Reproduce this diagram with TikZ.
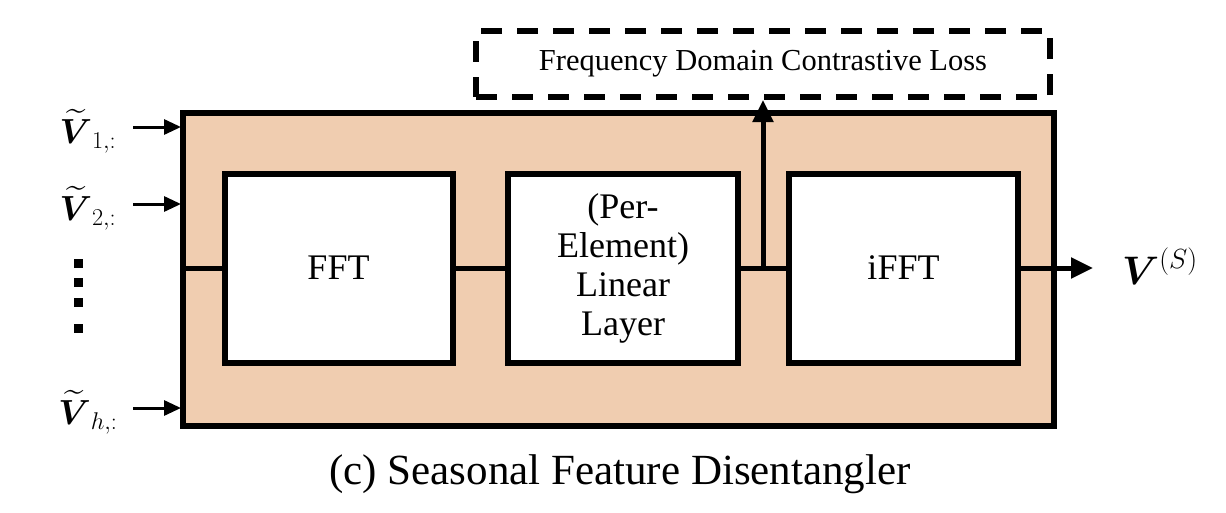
\documentclass[tikz,border=0pt]{standalone}
\usepackage{amsmath}
\usepackage{graphicx}
\usepackage{fontspec}
\setmainfont{Liberation Serif}
\usetikzlibrary{arrows.meta}
\definecolor{peach}{RGB}{240,205,176}
\newcommand{\bigmath}[2]{\scalebox{#1}{\fontsize{24}{28}\selectfont$#2$}}
\begin{document}
\begin{tikzpicture}[x=1pt,y=-1pt,
  blk/.style={draw=black,line width=6pt,fill=white,inner sep=0pt,align=center,font=\fontsize{36}{39}\selectfont},
  conn/.style={line width=5pt},
  inarrow/.style={line width=3pt,-{Triangle[length=17pt,width=15pt]}},
  bigarrow/.style={line width=5pt,-{Triangle[length=22pt,width=20pt]}},
  lbl/.style={inner sep=0pt}]
\useasboundingbox (0,0) rectangle (1226,512);
% outer box
\node[draw=black,line width=6pt,fill=peach,minimum width=871pt,minimum height=313pt,inner sep=0pt] (outer) at (618.5,269.5) {};
% dashed loss box
\node[draw=black,line width=6pt,dash pattern=on 21pt off 15pt,minimum width=574pt,minimum height=66pt,inner sep=0pt,font=\fontsize{30.5}{34}\selectfont] (loss) at (763,64) {Frequency Domain Contrastive Loss};
% inner blocks
\node[blk,minimum width=228pt,minimum height=189pt] (fft) at (338.5,268) {FFT};
\node[blk,minimum width=230pt,minimum height=189pt] (lin) at (623,268) {(Per-\\Element)\\Linear\\Layer};
\node[blk,minimum width=229pt,minimum height=189pt] (ifft) at (903.5,268) {iFFT};
% connectors
\coordinate (inl) at (outer.west |- fft.west);
\coordinate (junc) at (763,268);
\coordinate (outend) at (1093,268);
\draw[conn] (inl) -- (fft.west);
\draw[conn] (fft.east) -- (lin.west);
\draw[conn] (lin.east) -- (ifft.west);
\draw[bigarrow] (ifft.east) -- (outend);
\draw[bigarrow] (junc) -- (junc |- loss.south);
% inputs
\coordinate (a1) at (181,127);
\coordinate (a2) at (181,204);
\coordinate (a3) at (181,408);
\node[lbl] (v1) at (88,131) {\bigmath{1.4}{\widetilde{\boldsymbol{V}}_{1,:}}};
\node[lbl] (v2) at (88,208) {\bigmath{1.4}{\widetilde{\boldsymbol{V}}_{2,:}}};
\node[lbl] (vh) at (88,412) {\bigmath{1.4}{\widetilde{\boldsymbol{V}}_{h,:}}};
\draw[inarrow] (133,127) -- (a1);
\draw[inarrow] (133,204) -- (a2);
\draw[inarrow] (133,408) -- (a3);
% vertical dots
\foreach \yy in {263,282,302,328}
  \fill (73.5,\yy-4.5) rectangle (82.5,\yy+4.5);
% output label
\node[lbl,anchor=west] (vs) at (1122,266) {\bigmath{1.6}{\boldsymbol{V}^{(S)}}};
% caption
\node[font=\fontsize{43}{48}\selectfont,inner sep=0pt] (cap) at (620,474) {(c) Seasonal Feature Disentangler};
\end{tikzpicture}
\end{document}
